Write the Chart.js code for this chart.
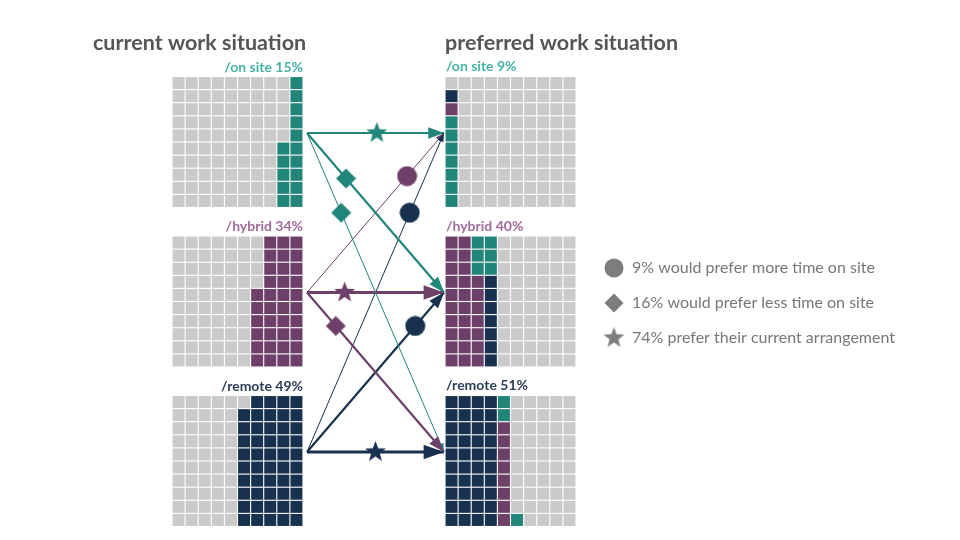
<!DOCTYPE html>
<html>
<head>
<meta charset="utf-8">
<title>Work situation</title>
<style>
  html, body { margin: 0; padding: 0; background: #fff; }
  .wrap { width: 960px; height: 540px; position: relative; }
</style>
</head>
<body>
<div class="wrap"><canvas id="chart"></canvas></div>
<script src="https://cdn.jsdelivr.net/npm/chart.js@4.4.1/dist/chart.umd.min.js"></script>
<script>
// --- data ---
var groups = ['on site', 'hybrid', 'remote'];
var currentPct = [15, 34, 49];
var preferredPct = [9, 40, 51];
// cells drawn in the current grids (filled from the bottom-right corner)
var currentCells = [15, 36, 49];
// preferred grids, column by column, bottom to top: g = from on site, p = from hybrid, n = from remote
var preferredOnSite = ['gggggggpn'];
var preferredHybrid = ['pppppppppp', 'pppppppppp', 'pppppppggg', 'nnnnnnnggg'];
var preferredRemote = ['nnnnnnnnnn', 'nnnnnnnnnn', 'nnnnnnnnnn', 'nnnnnnnnnn', 'ppppppppgg', 'g'];
var legendLabels = ['9% would prefer more time on site', '16% would prefer less time on site', '74% prefer their current arrangement'];

// --- look ---
var colors = ['#22857a', '#6e4069', '#18314f'];
var labelColors = ['#45b3a4', '#a06a9c', '#2c3d58'];
var gray = '#cacaca';
var letterGroup = { g: 0, p: 1, n: 2 };

// layout (pixel space of the 960x540 canvas)
var pitch = 13.1;
var leftX = 172, rightX = 445;
var gridTop = [76.5, 236, 395.5];
var anchorDy = 56.5;
var fromX = 307, toX = 444;
// where the marker sits along each arrow [from][to]
var markerT = [[0.51, 0.285, 0.25], [0.73, 0.275, 0.21], [0.75, 0.79, 0.5]];

function cellPoint(x0, top, col, row) {
  return { x: x0 + col * pitch + pitch / 2, y: top + row * pitch + pitch / 2 };
}

// build waffle cells
var cellData = [], cellColors = [];
function addGrid(x0, top, colorAt) {
  for (var c = 0; c < 10; c++) {
    for (var r = 0; r < 10; r++) {
      cellData.push(cellPoint(x0, top, c, r));
      cellColors.push(colorAt(c, r));
    }
  }
}
currentCells.forEach(function (n, g) {
  addGrid(leftX, gridTop[g], function (c, r) {
    var i = (9 - c) * 10 + (9 - r);
    return i < n ? colors[g] : gray;
  });
});
[preferredOnSite, preferredHybrid, preferredRemote].forEach(function (cols, g) {
  addGrid(rightX, gridTop[g], function (c, r) {
    var s = cols[c] || '';
    var k = 9 - r;
    return k < s.length ? colors[letterGroup[s[k]]] : gray;
  });
});

// flows counted from the preferred grids
var flowCells = [[0, 0, 0], [0, 0, 0], [0, 0, 0]];
[preferredOnSite, preferredHybrid, preferredRemote].forEach(function (cols, to) {
  cols.join('').split('').forEach(function (ch) { flowCells[letterGroup[ch]][to]++; });
});

// marker images
function markerCanvas(shape, color, size) {
  var cv = document.createElement('canvas');
  cv.width = size; cv.height = size;
  var c = cv.getContext('2d');
  var m = size / 2;
  c.fillStyle = color;
  c.beginPath();
  if (shape === 'star') {
    var R = m - 0.5, r = R * 0.42;
    for (var i = 0; i < 10; i++) {
      var a = -Math.PI / 2 + i * Math.PI / 5;
      var rr = i % 2 ? r : R;
      c.lineTo(m + rr * Math.cos(a), m + rr * Math.sin(a));
    }
  } else if (shape === 'diamond') {
    c.moveTo(m, 0.5); c.lineTo(size - 0.5, m); c.lineTo(m, size - 0.5); c.lineTo(0.5, m);
  } else {
    c.arc(m, m, m - 0.5, 0, Math.PI * 2);
  }
  c.closePath();
  c.fill();
  return cv;
}
function shapeFor(from, to) {
  if (from === to) return 'star';
  return from < to ? 'diamond' : 'circle';
}

var datasets = [];
var markerData = [], markerStyles = [];
var flowSets = [];
for (var f = 0; f < 3; f++) {
  for (var t = 0; t < 3; t++) {
    var p0 = { x: fromX, y: gridTop[f] + anchorDy };
    var p1 = { x: toX, y: gridTop[t] + anchorDy };
    var n = flowCells[f][t];
    var w = n >= 20 ? 3 : (n >= 6 ? 2.2 : 1);
    flowSets.push({
      type: 'line', data: [p0, p1], borderColor: colors[f], borderWidth: w,
      pointRadius: 0, showLine: true, order: 1, arrowWidth: w
    });
    var tt = markerT[f][t];
    markerData.push({ x: p0.x + (p1.x - p0.x) * tt, y: p0.y + (p1.y - p0.y) * tt });
    var sh = shapeFor(f, t);
    markerStyles.push(markerCanvas(sh, colors[f], sh === 'star' ? 23 : 21));
  }
}
datasets.push({ data: markerData, pointStyle: markerStyles, pointRadius: 10, order: 0, showLine: false });
datasets = datasets.concat(flowSets);
// legend markers
var legendShapes = ['circle', 'diamond', 'star'];
datasets.push({
  data: legendShapes.map(function (s, i) { return { x: 614, y: 268 + i * 35 }; }),
  pointStyle: legendShapes.map(function (s) { return markerCanvas(s, '#7d7d7d', s === 'star' ? 23 : 20); }),
  pointRadius: 10, order: 0, showLine: false
});
datasets.push({
  data: cellData, pointStyle: 'rect', pointRadius: 12 / Math.SQRT2,
  pointBackgroundColor: cellColors, pointBorderWidth: 0, order: 2, showLine: false
});

var textPlugin = {
  id: 'texts',
  afterDatasetsDraw: function (chart) {
    var ctx = chart.ctx;
    // arrowheads
    chart.data.datasets.forEach(function (ds, i) {
      if (!ds.arrowWidth) return;
      var pts = chart.getDatasetMeta(i).data;
      var a = pts[0], b = pts[1];
      var ang = Math.atan2(b.y - a.y, b.x - a.x);
      var len = 3 + 5.8 * ds.arrowWidth, hw = len * 0.36;
      ctx.save();
      ctx.translate(b.x, b.y);
      ctx.rotate(ang);
      ctx.fillStyle = ds.borderColor;
      ctx.beginPath();
      ctx.moveTo(0, 0); ctx.lineTo(-len, -hw); ctx.lineTo(-len, hw);
      ctx.closePath(); ctx.fill();
      ctx.restore();
    });
    ctx.save();
    ctx.textBaseline = 'middle';
    ctx.fillStyle = '#555';
    ctx.font = 'bold 21.5px Lato';
    ctx.textAlign = 'left';
    ctx.fillText('current work situation', 93, 43);
    ctx.fillText('preferred work situation', 445, 43);
    ctx.font = 'bold 14px Lato';
    groups.forEach(function (g, i) {
      ctx.fillStyle = labelColors[i];
      ctx.textAlign = 'right';
      ctx.fillText('/' + g + ' ' + currentPct[i] + '%', 303, gridTop[i] - 9.5);
      ctx.textAlign = 'left';
      ctx.fillText('/' + g + ' ' + preferredPct[i] + '%', 446, gridTop[i] - 10);
    });
    ctx.font = '16px Lato';
    ctx.fillStyle = '#777';
    legendLabels.forEach(function (s, i) { ctx.fillText(s, 632, 268 + i * 35); });
    ctx.restore();
  }
};

new Chart(document.getElementById('chart'), {
  type: 'scatter',
  data: { datasets: datasets },
  options: {
    responsive: true,
    maintainAspectRatio: false,
    animation: false,
    events: [],
    layout: { padding: 0, autoPadding: false },
    plugins: { legend: { display: false }, tooltip: { enabled: false } },
    scales: {
      x: { type: 'linear', min: 0, max: 960, display: false },
      y: { type: 'linear', min: 0, max: 540, reverse: true, display: false }
    }
  },
  plugins: [textPlugin]
});
</script>
</body>
</html>
